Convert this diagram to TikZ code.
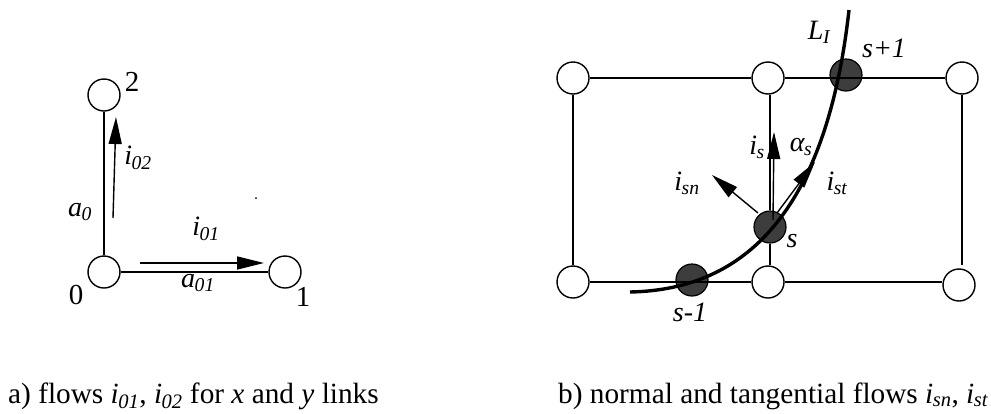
\documentclass[tikz,border=0pt]{standalone}
\usepackage{fontspec}
\setmainfont{Liberation Serif}
\usetikzlibrary{arrows.meta}
\tikzset{
 wn/.style={circle,draw=black,fill=white,line width=1.4pt,minimum size=32pt,inner sep=0pt},
 dn/.style={circle,draw=black,fill=black!76,line width=1.2pt,minimum size=32pt,inner sep=0pt},
 lnk/.style={line width=1.4pt},
 flow/.style={line width=1.4pt,-{Triangle[length=27pt,width=13pt]}},
 lab/.style={inner sep=0pt,font=\fontsize{28}{30}\selectfont\itshape},
 num/.style={inner sep=0pt,font=\fontsize{29}{31}\selectfont},
 captext/.style={inner sep=0pt,anchor=base west,font=\fontsize{29.3}{31}\selectfont},
}
\newcommand{\sbx}[1]{\textsubscript{\kern-.5pt#1}}
\begin{document}
\begin{tikzpicture}[x=1pt,y=-1pt]
\useasboundingbox (0,0) rectangle (991,413);
% left
\node[wn] (n0) at (104,272) {};
\node[wn] (n1) at (285,272) {};
\node[wn] (n2) at (104,95) {};
\draw[lnk] (n0) -- (n2);
\draw[lnk] (n0) -- (n1);
\coordinate (f1a) at (140,263); \coordinate (f1b) at (264,263);
\coordinate (f2a) at (113,218); \coordinate (f2b) at (116,117);
\draw[flow] (f1a) -- (f1b);
\draw[flow] (f2a) -- (f2b);
\node[num] (t2) at (132,82) {2};
\node[num] (t0) at (76,295) {0};
\node[num] (t1) at (303,297) {1};
\node[lab] (ti02) at (138,158) {i\sbx{02}};
\node[lab] (ta0) at (80,212) {a\sbx{0}};
\node[lab] (ti01) at (206,229) {i\sbx{01}};
\node[lab] (ta01) at (198,283) {a\sbx{01}};
\fill (256,198) circle (1pt);
% right
\node[wn] (a1) at (573,78) {};
\node[wn] (a2) at (768,78) {};
\node[dn] (a3) at (846,75) {};
\node[wn] (a4) at (962,78) {};
\node[wn] (b1) at (573,282) {};
\node[dn] (b2) at (692,280) {};
\node[wn] (b3) at (768,282) {};
\node[wn] (b4) at (959,285) {};
\node[dn] (s) at (770,227) {};
\coordinate (gap) at (962,265);
\draw[lnk] (a1) -- (a2);
\draw[lnk] (a2) -- (a4);
\draw[lnk] (b1) -- (b3);
\draw[lnk] (b3) -- (b4.west |- b3);
\draw[lnk] (a1) -- (b1);
\draw[lnk] (a4) -- (gap);
\draw[lnk] (a2.south -| s) -- (s);
\draw[lnk] (s) -- (b3.north -| s);
\coordinate (c0) at (630,292); \coordinate (c3) at (849,10);
\draw[line width=3.4pt] (c0) .. controls (735,290) and (825,225) .. (c3);
\coordinate (fs0) at (773,220);
\coordinate (fs) at (774,132);
\coordinate (fn0) at (758,213);
\coordinate (fn) at (712,175);
\coordinate (ft0) at (777,213);
\coordinate (ft) at (815,162);
\draw[flow] (fs0) -- (fs);
\draw[flow] (fn0) -- (fn);
\draw[flow] (ft0) -- (ft);
\node[lab] (tL) at (819,32) {L\sbx{I}};
\node[lab] (ts1) at (884,48) {s+1};
\node[lab] (tis) at (757,147) {i\sbx{s}};
\node[lab] (tas) at (801,147) {α\sbx{s}};
\node[lab] (tisn) at (687,183) {i\sbx{sn}};
\node[lab] (tist) at (837,183) {i\sbx{st}};
\node[lab] (ts) at (792,241) {s};
\node[lab] (tsm) at (690,312) {s-1};
% captions
\node[captext] (c1) at (8,403) {a) flows \textit{i\sbx{01}}, \textit{i\sbx{02}} for \textit{x} and \textit{y} links};
\node[captext] (c2) at (558,403) {b) normal and tangential flows \textit{i\sbx{sn}}, \textit{i\sbx{st}}};
\end{tikzpicture}
\end{document}
